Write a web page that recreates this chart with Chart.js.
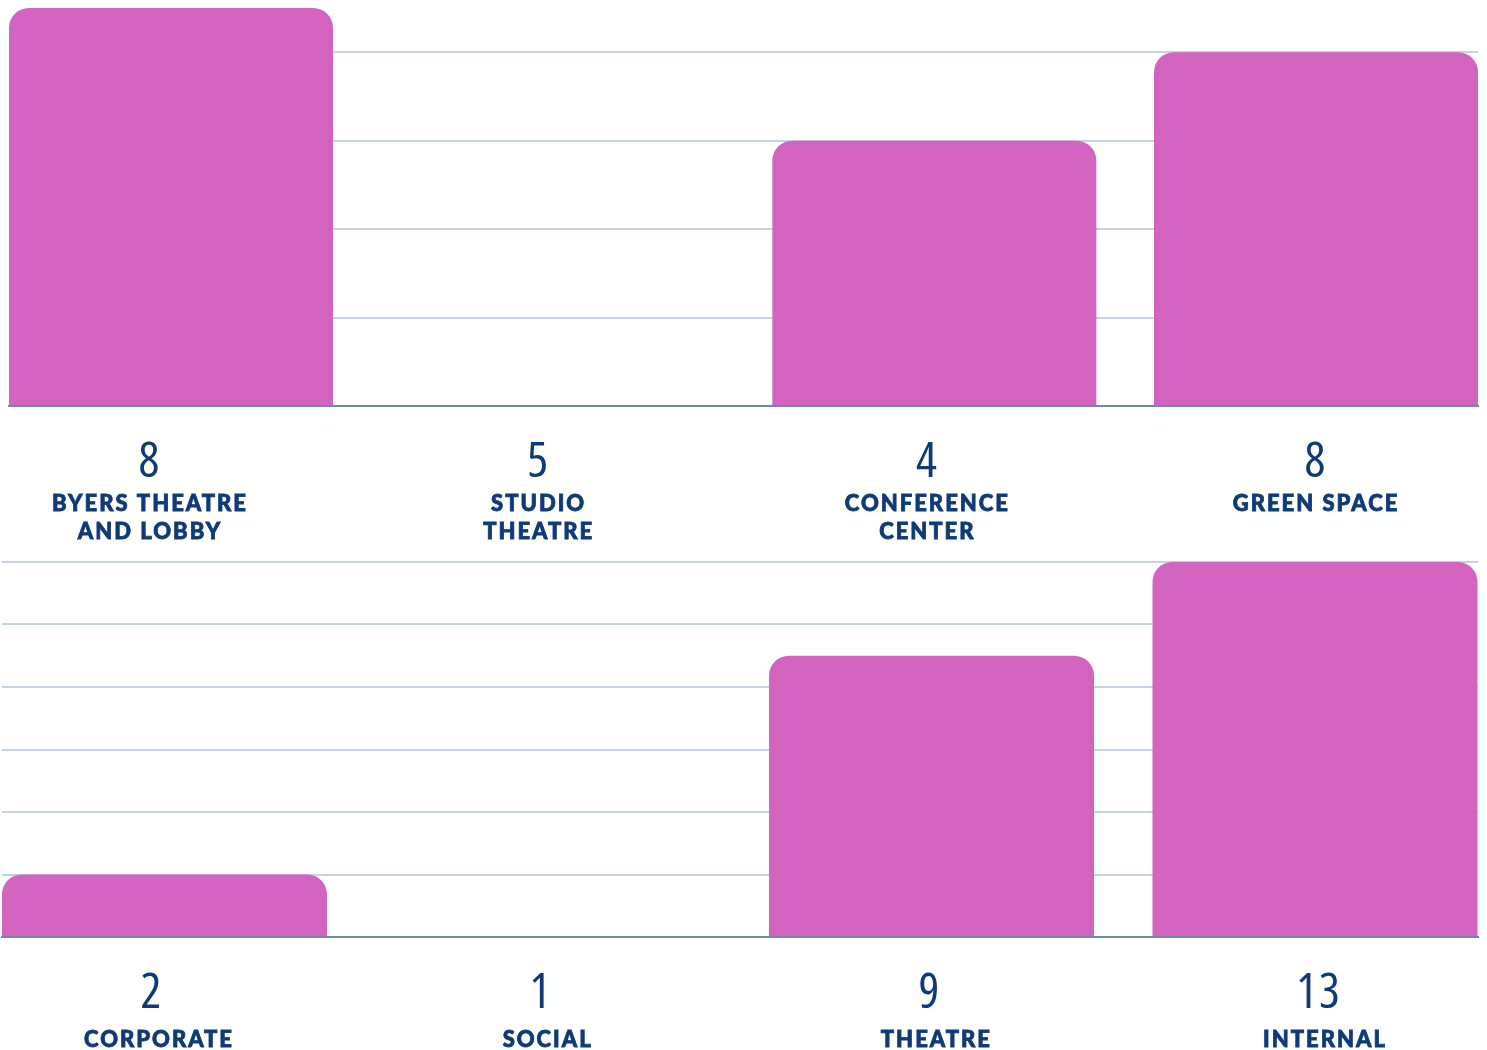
<!DOCTYPE html>
<html>
<head>
<meta charset="utf-8">
<script src="https://cdn.jsdelivr.net/npm/chart.js@4"></script>
<style>
  html, body { margin: 0; padding: 0; background: #ffffff; overflow: hidden; }
  #top { position: absolute; left: 0; top: 0; width: 1487px; height: 550px; }
  #bottom { position: absolute; left: 0; top: 550px; width: 1487px; height: 500px; }
</style>
</head>
<body>
<div id="top"><canvas id="c1"></canvas></div>
<div id="bottom"><canvas id="c2"></canvas></div>
<script>
// ---- Data: venues (top chart) ----
const venueNames = [["BYERS THEATRE", "AND LOBBY"], ["STUDIO", "THEATRE"], ["CONFERENCE", "CENTER"], ["GREEN SPACE"]];
const venueCounts = ["8", "5", "4", "8"];
const venueBars = [4.5, 0, 3, 4];
const venueGridTicks = [0, 1, 2, 3, 4];

// ---- Data: event types (bottom chart) ----
const typeNames = ["CORPORATE", "SOCIAL", "THEATRE", "INTERNAL"];
const typeCounts = ["2", "1", "9", "13"];
const typeBars = [1, 0, 4.5, 6];
const typeGridTicks = [0, 1, 2, 3, 4, 5, 6];

const BAR = '#d263bf';
const NAVY = '#0f3a78';
const GRID = '#c6d3e2';
const BASE = '#6e89ae';

function fixedTicks(values) {
  return function (axis) { axis.ticks = values.map(v => ({ value: v })); };
}
function fixedHeight(h) {
  return function (axis) { axis.height = h; };
}

const spacingPlugin = {
  id: 'letterSpacing',
  beforeLayout(chart) { chart.ctx.letterSpacing = '2px'; },
  beforeDraw(chart) { chart.ctx.letterSpacing = '2px'; }
};

function makeChart(canvasId, bars, counts, names, yMax, yTicks, geo) {
  const idx = bars.map((_, i) => i);
  return new Chart(document.getElementById(canvasId), {
    type: 'bar',
    plugins: [spacingPlugin],
    data: {
      datasets: [{
        data: bars.map((v, i) => ({ x: i, y: v })),
        backgroundColor: BAR,
        borderWidth: 0,
        borderRadius: 20,
        borderSkipped: 'start',
        categoryPercentage: 1,
        barPercentage: geo.barPct
      }]
    },
    options: {
      responsive: true,
      maintainAspectRatio: false,
      animation: false,
      events: [],
      layout: { padding: geo.padding },
      plugins: { legend: { display: false }, tooltip: { enabled: false } },
      scales: {
        x: {
          type: 'linear',
          position: 'bottom',
          weight: 0,
          offset: false,
          min: geo.barMin, max: geo.barMax,
          grid: { display: false, drawTicks: false, offset: false },
          border: { display: true, color: BASE, width: 2, z: 1 },
          ticks: { display: false },
          afterBuildTicks: fixedTicks(idx),
          afterFit: fixedHeight(0)
        },
        xNum: {
          type: 'linear',
          position: 'bottom',
          weight: 1,
          offset: false,
          min: geo.numMin, max: geo.numMax,
          grid: { display: false, drawTicks: false, offset: false },
          border: { display: false },
          afterBuildTicks: fixedTicks(idx),
          afterFit: fixedHeight(geo.numH),
          ticks: {
            autoSkip: false, maxRotation: 0, minRotation: 0,
            padding: geo.numPad,
            color: NAVY,
            font: { family: '"Open Sans", sans-serif', size: 49, weight: '480 condensed', lineHeight: 1.0 },
            callback: (v, i) => counts[i]
          }
        },
        xName: {
          type: 'linear',
          position: 'bottom',
          weight: 2,
          offset: false,
          min: geo.nameMin, max: geo.nameMax,
          grid: { display: false, drawTicks: false, offset: false },
          border: { display: false },
          afterBuildTicks: fixedTicks(idx),
          afterFit: fixedHeight(geo.nameH),
          ticks: {
            autoSkip: false, maxRotation: 0, minRotation: 0,
            padding: geo.namePad,
            color: NAVY,
            textStrokeColor: NAVY,
            textStrokeWidth: 0.8,
            font: { family: 'Lato, "Open Sans", sans-serif', size: 22, weight: '900', lineHeight: geo.nameLH },
            callback: (v, i) => names[i]
          }
        },
        y: {
          min: 0, max: yMax,
          grid: { display: true, color: GRID, lineWidth: 2, drawTicks: false },
          border: { display: false },
          ticks: { display: false },
          afterBuildTicks: fixedTicks(yTicks)
        }
      }
    }
  });
}

makeChart('c1', venueBars, venueCounts, venueNames, 4.5, venueGridTicks, {
  padding: { top: 8, left: 9, right: 9, bottom: 0 },
  barPct: 0.849, barMin: -0.4244, barMax: 3.4244,
  numMin: -0.3627, numMax: 3.4168, numPad: 33, numH: 78,
  nameMin: -0.3627, nameMax: 3.4168, namePad: 6, nameLH: 1.273, nameH: 66
});

makeChart('c2', typeBars, typeCounts, typeNames, 6, typeGridTicks, {
  padding: { top: 12, left: 2, right: 9, bottom: 0 },
  barPct: 0.8475, barMin: -0.4237, barMax: 3.425,
  numMin: -0.3856, numMax: 3.4087, numPad: 33, numH: 78,
  nameMin: -0.4039, nameMax: 3.3936, namePad: 13, nameLH: 1.091, nameH: 35
});
</script>
</body>
</html>
